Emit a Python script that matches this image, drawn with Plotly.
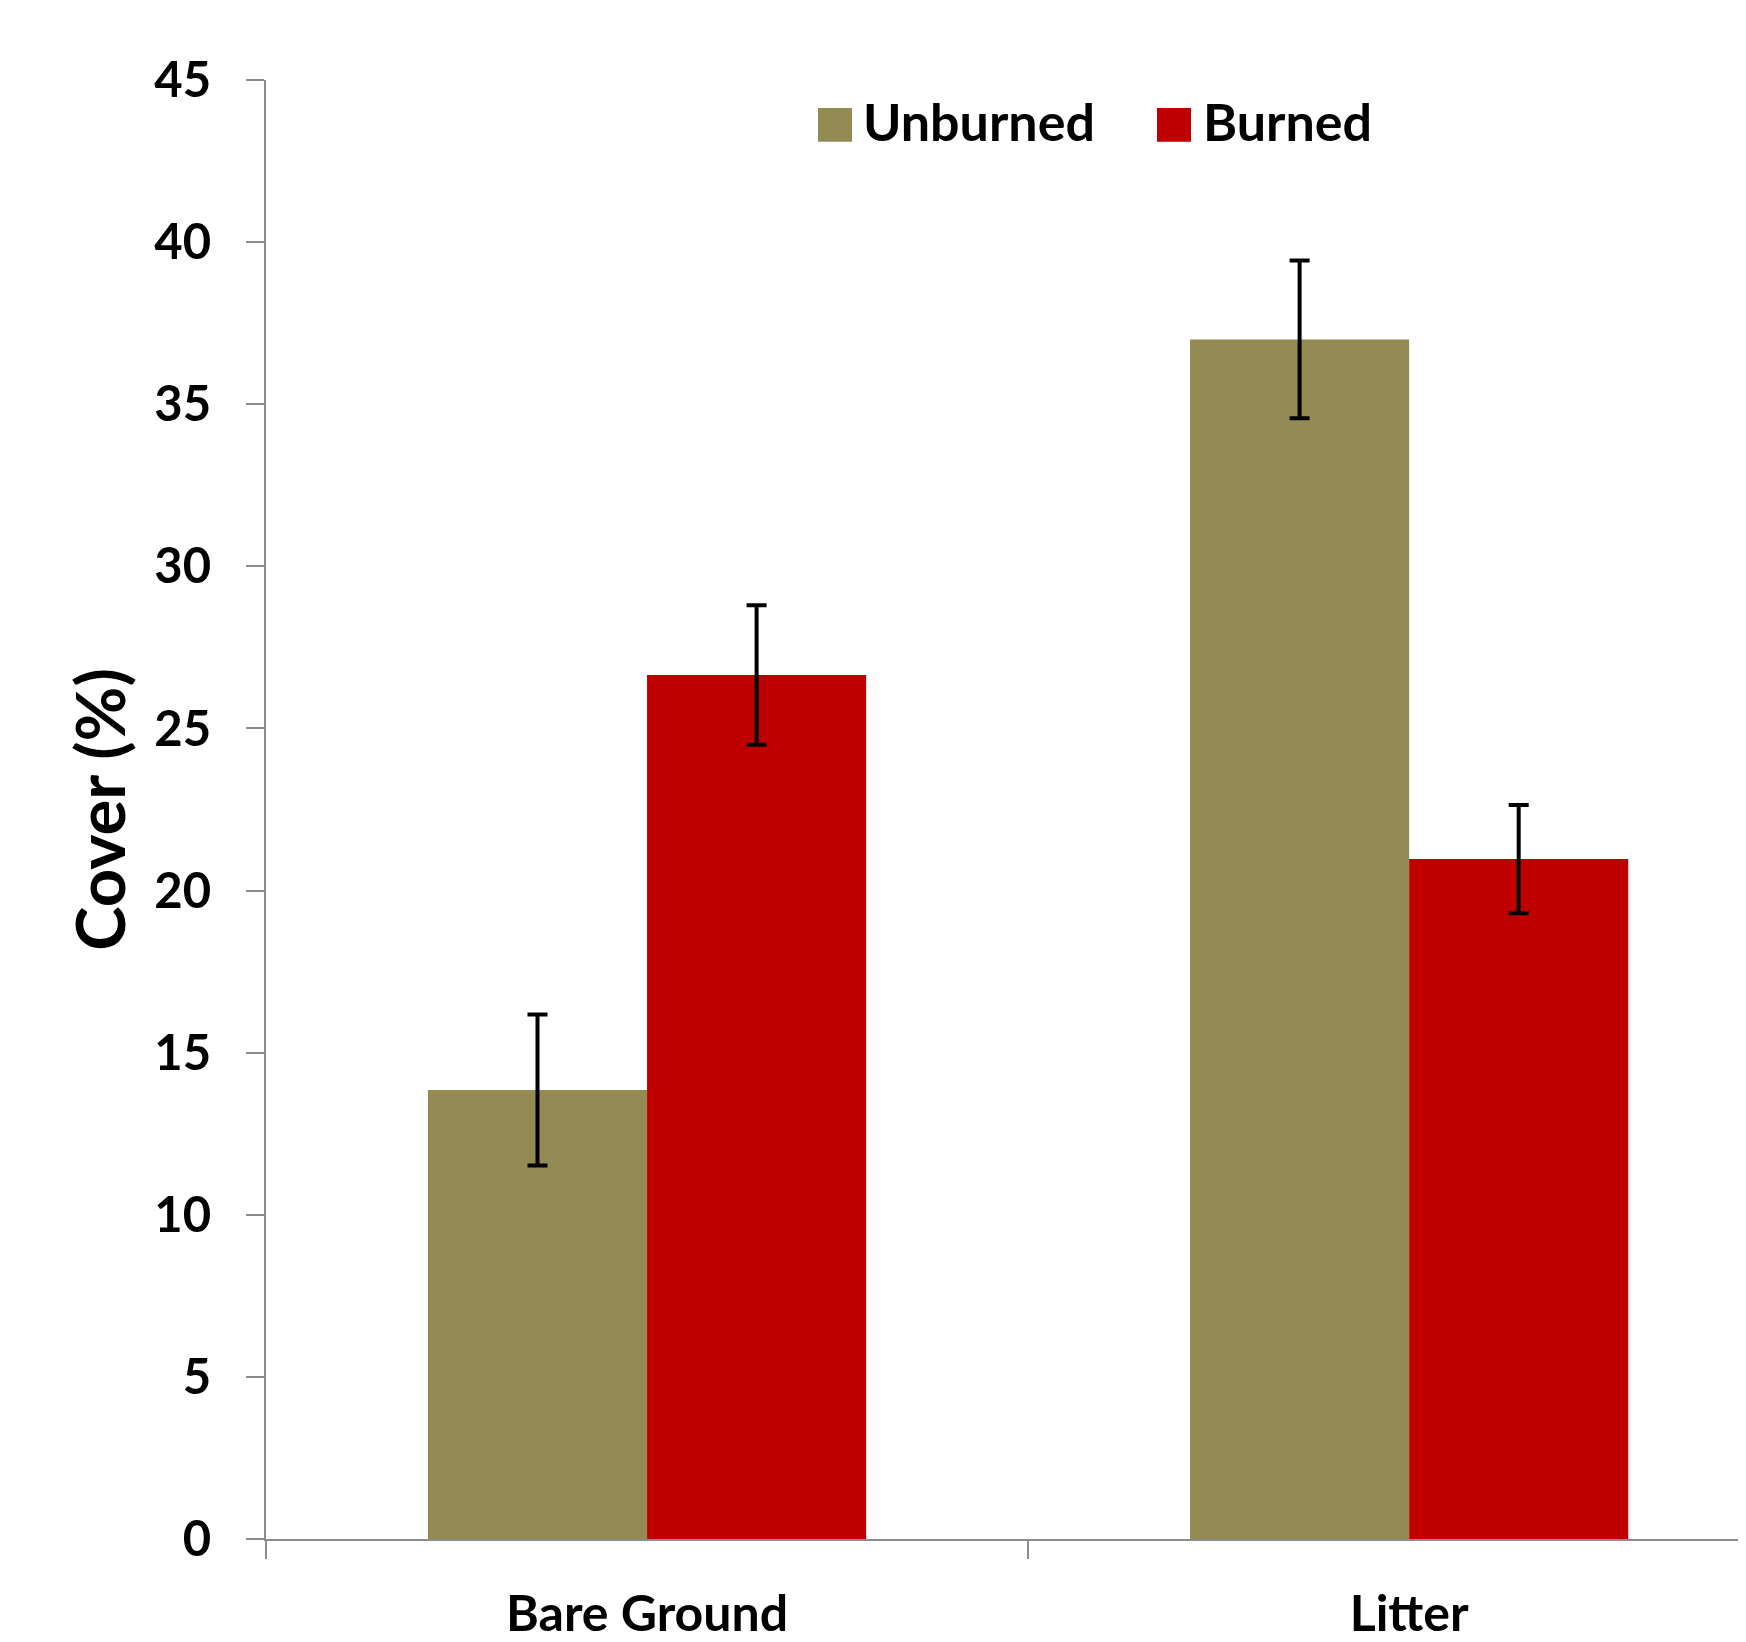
import plotly.graph_objects as go

# ---- data ----
categories = ["Bare Ground", "Litter"]
series_names = ["Unburned", "Burned"]
unburned = [13.85, 37.0]
unburned_err = [2.33, 2.43]
burned = [26.65, 20.97]
burned_err = [2.15, 1.67]
y_ticks = [0, 5, 10, 15, 20, 25, 30, 35, 40, 45]

# ---- style ----
# page body has an 8px margin, so the figure is a little smaller than the window
W, H = 1738, 1634
ML, MR, MT, MB = 258, 0, 72, 99
FONT = "Lato"
C_UNB = "#948A54"
C_BUR = "#C00000"
AXC = "#8C8C8C"

fig = go.Figure()
fig.add_trace(go.Bar(
    x=categories, y=unburned, name=series_names[0],
    marker=dict(color=C_UNB, line=dict(width=0)),
    error_y=dict(type="data", array=unburned_err, color="black", thickness=4, width=10),
    showlegend=False,
))
fig.add_trace(go.Bar(
    x=categories, y=burned, name=series_names[1],
    marker=dict(color=C_BUR, line=dict(width=0)),
    error_y=dict(type="data", array=burned_err, color="black", thickness=4, width=10),
    showlegend=False,
))

pw, ph = W - ML - MR, H - MT - MB
def px_x(p):
    return (p - ML) / pw
def px_y(p):
    return (H - MB - p) / ph

# custom legend (large swatches); pixel positions in figure coordinates
legend_items = [(series_names[0], C_UNB, 810, 853), (series_names[1], C_BUR, 1149, 1193)]
for name, col, sx, tx in legend_items:
    fig.add_shape(type="rect", xref="paper", yref="paper",
                  x0=px_x(sx), x1=px_x(sx + 34), y0=px_y(134), y1=px_y(100),
                  fillcolor=col, line=dict(width=0))
    fig.add_annotation(xref="paper", yref="paper", x=px_x(tx), y=px_y(113),
                       xanchor="left", yanchor="middle", text=name, showarrow=False,
                       font=dict(family=FONT, size=52, color="black", weight="bold"))

fig.update_layout(
    width=W, height=H,
    margin=dict(l=ML, r=MR, t=MT, b=MB),
    paper_bgcolor="white", plot_bgcolor="white",
    barmode="group", bargap=0.425, bargroupgap=0,
    showlegend=False,
    font=dict(family=FONT, color="black"),
)
fig.update_xaxes(
    type="category", range=[-0.5, 1.442],
    showline=True, linecolor=AXC, linewidth=2,
    ticks="outside", ticklen=18, tickwidth=2, tickcolor=AXC,
    tickson="boundaries",
    tickfont=dict(family=FONT, size=50, color="black", weight="bold"),
    ticklabelstandoff=30,
    showgrid=False, zeroline=False,
)
fig.update_yaxes(
    range=[0, 45], tickvals=y_ticks,
    showline=True, linecolor=AXC, linewidth=2,
    ticks="outside", ticklen=18, tickwidth=2, tickcolor=AXC,
    tickfont=dict(family=FONT, size=49, color="black", weight="bold"),
    ticklabelstandoff=25,
    showgrid=False, zeroline=False,
    title=dict(text="Cover (%)", font=dict(family=FONT, size=67, color="black", weight="bold"), standoff=7),
)

fig.write_html("out.html")
